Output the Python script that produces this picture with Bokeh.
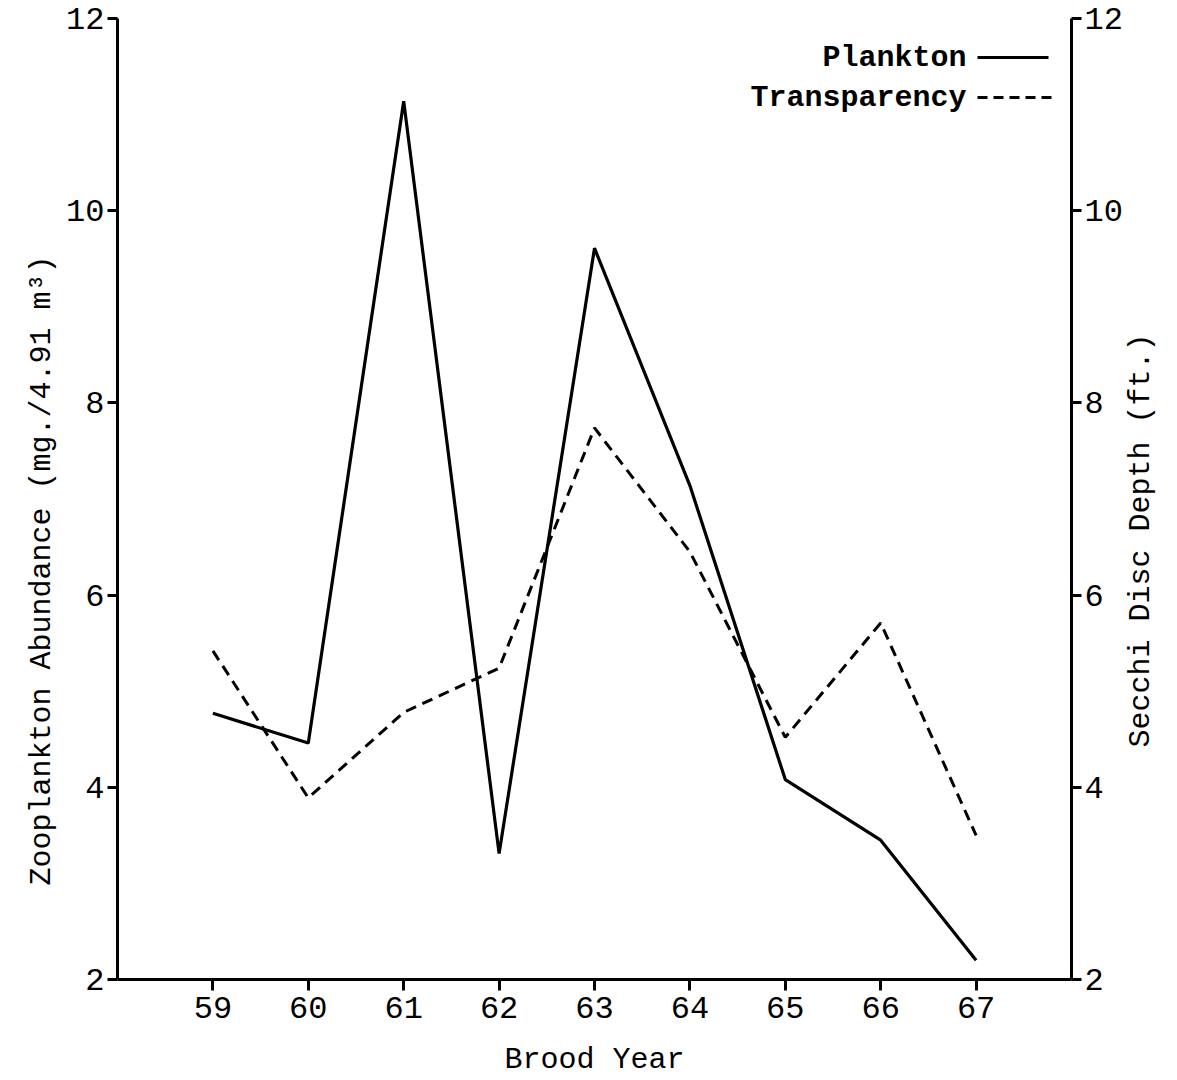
import math
from bokeh.plotting import figure
from bokeh.layouts import row
from bokeh.models import Range1d, LinearAxis, FixedTicker, Label, Arrow, Title
from bokeh.embed import file_html
from bokeh.resources import INLINE

# ---- data ----
years = [59, 60, 61, 62, 63, 64, 65, 66, 67]
plankton = [4.77, 4.46, 11.14, 3.31, 9.61, 7.14, 4.08, 3.45, 2.20]
transparency = [5.42, 3.89, 4.78, 5.24, 7.74, 6.45, 4.52, 5.71, 3.50]
y_ticks = [2, 4, 6, 8, 10, 12]

FONT = "Liberation Mono"
H = 1080
W_MAIN, W_SIDE = 1125, 52
FL, FB = 117, 979  # frame left / bottom in canvas pixels (screen units are frame-relative)

p = figure(width=W_MAIN, height=H, output_backend="svg", toolbar_location=None,
           x_range=Range1d(58, 68), y_range=Range1d(2, 12),
           min_border_left=117, min_border_right=W_MAIN - 1072,
           min_border_top=18, min_border_bottom=101,
           x_axis_location="below", y_axis_location="left")
p.extra_y_ranges = {"right": Range1d(2, 12)}
right_axis = LinearAxis(y_range_name="right")
p.add_layout(right_axis, "right")

p.outline_line_color = None
p.grid.visible = False
p.background_fill_color = "white"
p.border_fill_color = "white"

for ax in p.yaxis:
    ax.ticker = FixedTicker(ticks=y_ticks)
    ax.minor_tick_line_color = None
    ax.major_tick_in = 0
    ax.major_tick_out = 10
    ax.major_tick_line_width = 3
    ax.axis_line_width = 3
    ax.axis_line_color = "black"
    ax.major_tick_line_color = "black"
    ax.major_label_text_font = FONT
    ax.major_label_text_font_size = "32px"
    ax.major_label_text_color = "black"
    ax.major_label_standoff = 3

xa = p.xaxis[0]
xa.ticker = FixedTicker(ticks=years)
xa.minor_tick_line_color = None
xa.major_tick_in = 0
xa.major_tick_out = 11
xa.major_tick_line_width = 3
xa.axis_line_width = 3
xa.axis_line_color = "black"
xa.major_tick_line_color = "black"
xa.major_label_text_font = FONT
xa.major_label_text_font_size = "32px"
xa.major_label_text_color = "black"
xa.major_label_standoff = 6
xa.axis_label = "Brood Year"
xa.axis_label_text_font = FONT
xa.axis_label_text_font_size = "30px"
xa.axis_label_text_font_style = "normal"
xa.axis_label_text_color = "black"
xa.axis_label_standoff = 22

# ---- series ----
p.line(years, plankton, line_color="black", line_width=3.2)
p.line(years, transparency, line_color="black", line_width=3, line_dash="11 7",
       y_range_name="right")

# ---- left title ----
p.add_layout(Title(text="Zooplankton Abundance (mg./4.91 m³)", align="left",
                   offset=94, standoff=10, text_font=FONT, text_font_size="30px",
                   text_font_style="normal", text_color="black"), "left")


def lab(fig, x, y, text, size, align="center", bold=False, angle=0.0):
    fig.add_layout(Label(x=x, y=y, x_units="screen", y_units="screen",
                         text=text, text_align=align, angle=angle,
                         text_baseline="middle", text_font=FONT,
                         text_font_size=size,
                         text_font_style="bold" if bold else "normal",
                         text_color="black"))


# ---- legend ----
lab(p, 966 - FL, FB - 57, "Plankton", "30px", align="right", bold=True)
lab(p, 966 - FL, FB - 97, "Transparency", "30px", align="right", bold=True)
p.add_layout(Arrow(end=None, x_start=977 - FL, y_start=FB - 57,
                   x_end=1048 - FL, y_end=FB - 57,
                   start_units="screen", end_units="screen",
                   line_color="black", line_width=3))
p.add_layout(Arrow(end=None, x_start=977 - FL, y_start=FB - 97,
                   x_end=1055 - FL, y_end=FB - 97,
                   start_units="screen", end_units="screen",
                   line_color="black", line_width=3, line_dash="10 6"))

# ---- right-hand title strip (reads bottom to top); row aligns its frame with p's ----
side = figure(width=W_SIDE, height=H, output_backend="svg", toolbar_location=None,
              x_range=Range1d(0, 1), y_range=Range1d(0, 1),
              x_axis_location=None, y_axis_location=None,
              min_border_left=0, min_border_right=0,
              min_border_top=0, min_border_bottom=0)
side.outline_line_color = None
side.grid.visible = False
side.background_fill_color = "white"
side.border_fill_color = "white"
lab(side, 1140 - W_MAIN, FB - 540, "Secchi Disc Depth (ft.)", "30px",
    angle=math.pi / 2)

layout = row(p, side, spacing=0)
open("out.html", "w").write(file_html(layout, INLINE))
